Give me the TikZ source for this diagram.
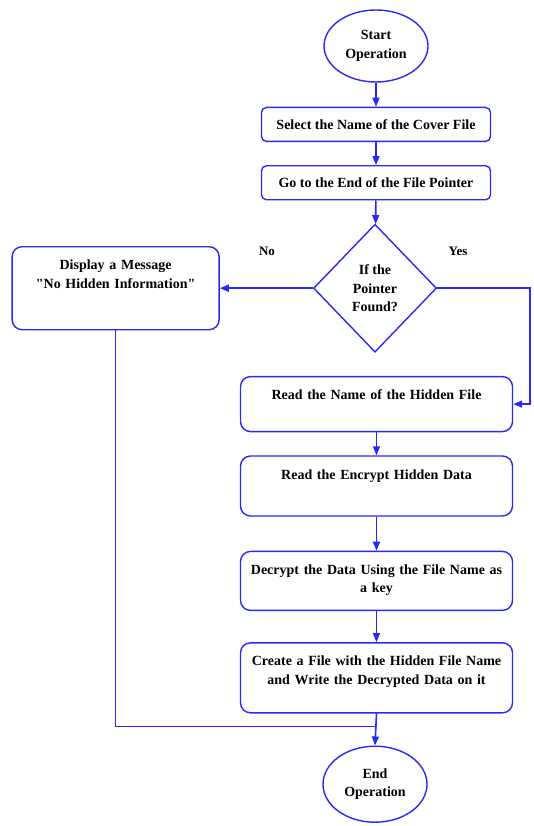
\documentclass[tikz,border=0pt]{standalone}
\usepackage{fontspec}
\setmainfont{Liberation Serif}
\usetikzlibrary{positioning,arrows.meta,calc,shapes.geometric}
\definecolor{flowblue}{RGB}{40,40,250}
\tikzset{
  term/.style={ellipse,draw=flowblue,line width=1.4pt,minimum width=104pt,minimum height=72pt,
    inner sep=0pt,align=center},
  proc/.style={rectangle,draw=flowblue,line width=1.4pt,rounded corners=5pt,
    minimum width=229pt,minimum height=34pt,inner sep=2pt,align=center},
  procbig/.style={rectangle,draw=flowblue,line width=1.4pt,rounded corners=10pt,
    text width=256pt,inner xsep=8pt,inner ysep=4pt,align=center,text height=19pt},
  decide/.style={diamond,draw=flowblue,line width=1.4pt,minimum width=123pt,minimum height=128pt,
    inner sep=0pt,align=center},
  flow/.style={draw=flowblue,line width=1.6pt,-{Triangle[length=9pt,width=7pt]}},
  plainline/.style={draw=flowblue,line width=1.6pt},
  yesno/.style={font=\bfseries\fontsize{13}{15}\selectfont},
}

\begin{document}
\begin{tikzpicture}[x=1pt,y=-1pt,font=\bfseries\fontsize{14}{18.5}\selectfont]
  \useasboundingbox (0,0) rectangle (533,826);
  % main column top -> bottom
  \node[term] (start) at (376,46) {Start\\Operation};
  \node[proc,below=24pt of start] (cover) {Select the Name of the Cover File};
  \node[proc,below=23pt of cover] (seek) {Go to the End of the File Pointer};
  \node[decide,below=23pt of seek,xshift=-1pt] (found) {If the\\Pointer\\Found?};
  \node[procbig,text depth=28pt,below=23pt of found,xshift=1.5pt] (hname) {Read the Name of the Hidden File};
  \node[procbig,text depth=33pt,below=23pt of hname] (encdata) {Read the Encrypt Hidden Data};
  \node[procbig,text depth=32pt,below=34pt of encdata] (decrypt)
       {Decrypt the Data Using the File Name as\\a key};
  \node[procbig,text depth=43pt,below=31pt of decrypt] (write)
       {Create a File with the Hidden File Name\\and Write the Decrypted Data on it};
  \node[term,minimum height=76pt,below=32pt of write,xshift=-1.5pt] (finish) {End\\Operation};
  % left branch
  \node[procbig,text width=191pt,text depth=56pt,left=93pt of found] (nomsg)
       {Display a Message\\\textquotedbl No Hidden Information\textquotedbl};
  \node[yesno] (nolbl) at (267,251) {No};
  \node[yesno] (yeslbl) at (458,251) {Yes};
  \coordinate (join) at ([yshift=-13pt]write.south);
  % connectors
  \draw[flow] (start) -- (cover);
  \draw[flow] (cover) -- (seek);
  \draw[flow] (seek) -- (found);
  \draw[flow] (found.west) -- (nomsg.east);
  \draw[flow] (found.east) -| ([xshift=17pt]hname.east) -- (hname.east);
  \draw[flow] (hname) -- (encdata);
  \draw[flow] (encdata) -- (decrypt);
  \draw[flow] (decrypt) -- (write);
  \draw[flow] (write.south) -- (finish.north);
  \draw[plainline] (nomsg.south) |- (join);
\end{tikzpicture}
\end{document}
